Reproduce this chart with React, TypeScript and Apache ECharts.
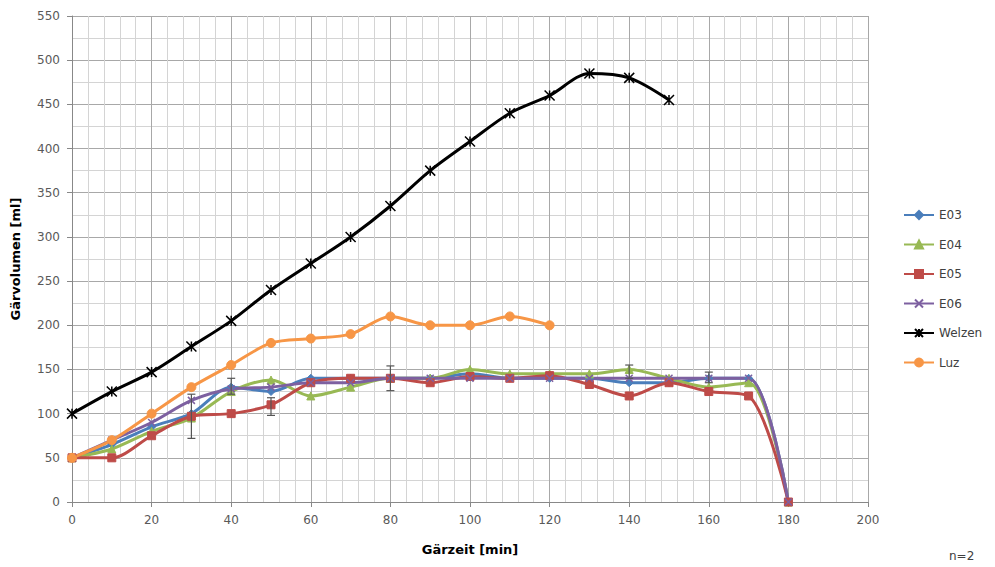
import React, { useEffect, useRef } from "react";
import * as echarts from "echarts";

const times = [0, 10, 20, 30, 40, 50, 60, 70, 80, 90, 100, 110, 120, 130, 140, 150, 160, 170, 180];
const welzenTimes = [0, 10, 20, 30, 40, 50, 60, 70, 80, 90, 100, 110, 120, 130, 140, 150];
const luzTimes = [0, 10, 20, 30, 40, 50, 60, 70, 80, 90, 100, 110, 120];

const e03 = [50, 65, 85, 100, 130, 125, 140, 140, 140, 140, 145, 140, 140, 140, 135, 135, 140, 140, 0];
const e04 = [50, 60, 80, 95, 125, 138, 120, 130, 140, 140, 150, 145, 145, 145, 150, 140, 130, 135, 0];
const e05 = [50, 50, 75, 97, 100, 110, 135, 140, 140, 135, 142, 140, 143, 133, 120, 135, 125, 120, 0];
const e06 = [50, 70, 90, 115, 128, 130, 135, 135, 140, 140, 140, 140, 140, 140, 140, 140, 140, 140, 0];
const welzen = [100, 125, 147, 176, 205, 240, 270, 300, 335, 375, 408, 440, 460, 485, 480, 455];
const luz = [50, 70, 100, 130, 155, 180, 185, 190, 210, 200, 200, 210, 200];

const errX = [30, 40, 50, 80, 140, 160];
const errLow = [72, 122, 98, 126, 140, 135];
const errHigh = [122, 140, 118, 154, 155, 147];

const yTicks = [0, 50, 100, 150, 200, 250, 300, 350, 400, 450, 500, 550];

const crossPath = "path://M0,0L10,10M10,0L0,10M5,0L5,10";
const xPath = "path://M0,0L10,10M10,0L0,10";

export default function App() {
  const ref = useRef<HTMLDivElement>(null);
  useEffect(() => {
    if (!ref.current) return;
    const chart = echarts.init(ref.current, undefined, { renderer: "svg" });
    const pairs = (xs: number[], ys: number[]) => xs.map((x, i) => [x, ys[i]]);
    const mk = (name: string, color: string, data: number[][], symbol: string, size: number, stroke = false) => ({
      name,
      type: "line",
      data,
      smooth: 0.3,
      symbol,
      symbolSize: size,
      showSymbol: true,
      lineStyle: { color, width: 3 },
      itemStyle: stroke
        ? { color, borderColor: color, borderWidth: 1.5 }
        : { color, borderColor: color, borderWidth: 1 },
      emphasis: { disabled: true },
    });
    chart.setOption({
      animation: false,
      textStyle: { fontFamily: "DejaVu Sans" },
      grid: { left: 72, right: 127, top: 16, bottom: 65 },
      legend: {
        orient: "vertical",
        left: 898,
        top: 204,
        itemGap: 17.5,
        itemWidth: 30,
        itemHeight: 10,
        textStyle: { fontSize: 12, color: "#404040", fontFamily: "DejaVu Sans" },
        data: ["E03", "E04", "E05", "E06", "Welzen", "Luz"],
      },
      xAxis: {
        type: "value",
        min: 0,
        max: 200,
        interval: 20,
        name: "Gärzeit [min]",
        nameLocation: "middle",
        nameGap: 41,
        nameTextStyle: { fontWeight: "bold", fontSize: 13, color: "#000" },
        axisLine: { show: true, lineStyle: { color: "#888" } },
        axisTick: { show: true, length: 5, lineStyle: { color: "#888" } },
        axisLabel: { fontSize: 12, color: "#595959", margin: 12 },
        splitLine: { show: true, lineStyle: { color: "#a8a8a8", width: 1 } },
        minorTick: { show: false, splitNumber: 5 },
        minorSplitLine: { show: true, lineStyle: { color: "#d4d4d4", width: 1 } },
      },
      yAxis: {
        type: "value",
        min: 0,
        max: 550,
        interval: 50,
        name: "Gärvolumen [ml]",
        nameLocation: "middle",
        nameGap: 50,
        nameRotate: 90,
        nameTextStyle: { fontWeight: "bold", fontSize: 13, color: "#000" },
        axisLine: { show: true, lineStyle: { color: "#888" } },
        axisTick: { show: true, length: 5, lineStyle: { color: "#888" } },
        axisLabel: {
          fontSize: 12,
          color: "#595959",
          margin: 12,
          formatter: (v: number) => (yTicks.includes(v) ? String(v) : ""),
        },
        splitLine: { show: true, lineStyle: { color: "#a8a8a8", width: 1 } },
        minorTick: { show: false, splitNumber: 2 },
        minorSplitLine: { show: true, lineStyle: { color: "#d4d4d4", width: 1 } },
      },
      series: [
        mk("E03", "#4a7ebb", pairs(times, e03), "diamond", 8),
        mk("E04", "#98b954", pairs(times, e04), "triangle", 8),
        mk("E05", "#be4b48", pairs(times, e05), "rect", 8),
        mk("E06", "#7d60a0", pairs(times, e06), xPath, 7, true),
        mk("Welzen", "#000000", pairs(welzenTimes, welzen), crossPath, 10, true),
        mk("Luz", "#f79646", pairs(luzTimes, luz), "circle", 9),
        {
          name: "err",
          type: "custom",
          z: 5,
          data: errX.map((x, i) => [x, errLow[i], errHigh[i]]),
          renderItem: (_p: any, api: any) => {
            const x = api.value(0);
            const a = api.coord([x, api.value(1)]);
            const b = api.coord([x, api.value(2)]);
            const st = { stroke: "#555", lineWidth: 1.2 };
            return {
              type: "group",
              children: [
                { type: "line", shape: { x1: a[0], y1: a[1], x2: b[0], y2: b[1] }, style: st },
                { type: "line", shape: { x1: a[0] - 4, y1: a[1], x2: a[0] + 4, y2: a[1] }, style: st },
                { type: "line", shape: { x1: b[0] - 4, y1: b[1], x2: b[0] + 4, y2: b[1] }, style: st },
              ],
            };
          },
        },
      ],
      graphic: [
        {
          type: "text",
          left: 949,
          top: 550,
          style: { text: "n=2", fontSize: 12, fill: "#404040", fontFamily: "DejaVu Sans" },
        },
      ],
    });
    return () => chart.dispose();
  }, []);
  return <div ref={ref} style={{ width: 995, height: 567, position: "absolute", left: 0, top: 0 }} />;
}
